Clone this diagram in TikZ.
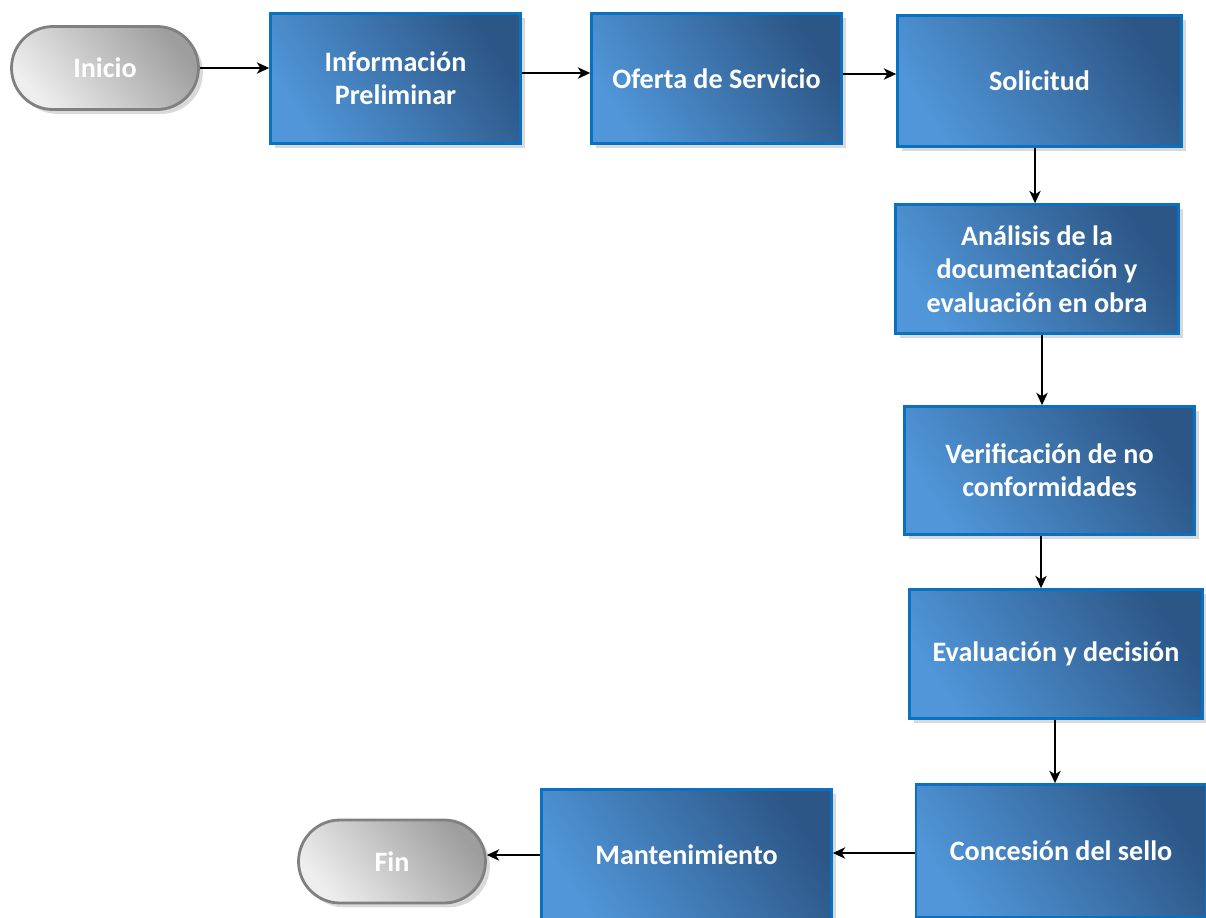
\documentclass[tikz,border=0pt]{standalone}
\usepackage{fontspec}
\setmainfont{Carlito}
\usetikzlibrary{arrows.meta,shadows}
\definecolor{boxlight}{RGB}{80,150,216}
\definecolor{boxdark}{RGB}{44,86,134}
\definecolor{boxline}{RGB}{10,112,192}
\definecolor{termlight}{RGB}{238,238,238}
\definecolor{termdark}{RGB}{158,158,158}
\definecolor{termline}{RGB}{128,128,128}

\begin{document}
\begin{tikzpicture}[x=0.02cm,y=-0.02cm,
  procbox/.style={rectangle,draw=boxline,line width=1.6pt,
    left color=boxlight,right color=boxdark,shading angle=124,
    text=white,font=\bfseries\fontsize{16}{19}\selectfont,align=center,
    inner sep=0pt,
    drop shadow={shadow xshift=2.5pt,shadow yshift=-2.5pt,opacity=0.3}},
  termbox/.style={rectangle,rounded corners=0.83cm,draw=termline,line width=1.6pt,
    left color=termlight,right color=termdark,shading angle=130,
    text=white,font=\bfseries\fontsize{16}{19}\selectfont,
    minimum width=3.74cm,minimum height=1.66cm,inner sep=0pt,
    drop shadow={shadow xshift=2.5pt,shadow yshift=-2.5pt,opacity=0.3}},
  flow/.style={-{Stealth[length=7pt,width=6.5pt,inset=2pt]},line width=0.7pt}]
\useasboundingbox (0,0) rectangle (1206,917);
\clip (0,0) rectangle (1206,917);
% top row
\node[termbox] (ini) at (105,68) {Inicio};
\node[procbox,minimum width=5.0cm,minimum height=2.6cm] (inf) at (395.5,78.5) {Información\\Preliminar};
\node[procbox,minimum width=5.0cm,minimum height=2.6cm] (ofe) at (716.5,78.5) {Oferta de Servicio};
\node[procbox,minimum width=5.68cm,minimum height=2.62cm] (sol) at (1039.5,81) {Solicitud};
% right column
\node[procbox,minimum width=5.66cm,minimum height=2.58cm] (ana) at (1037,269) {Análisis de la\\documentación y\\evaluación en obra};
\node[procbox,minimum width=5.8cm,minimum height=2.56cm] (ver) at (1049.5,470.5) {Verificación de no\\conformidades};
\node[procbox,minimum width=5.86cm,minimum height=2.58cm] (eva) at (1056,654) {Evaluación y decisión};
\node[procbox,minimum width=5.8cm,minimum height=2.66cm] (con) at (1061,851) {Concesión del sello};
% bottom row
\node[procbox,minimum width=5.8cm,minimum height=2.62cm] (man) at (686.5,855) {Mantenimiento};
\node[termbox] (fin) at (392,861.5) {Fin};
% connectors
\draw[flow] (ini.east) -- (ini.east -| inf.west);
\draw[flow] ([yshift=0.11cm]inf.east) -- ([yshift=0.11cm]inf.east -| ofe.west);
\draw[flow] ([yshift=0.09cm]ofe.east) -- ([yshift=0.09cm]ofe.east -| sol.west);
\draw[flow] ([xshift=-0.09cm]sol.south) -- ([xshift=-0.09cm]sol.south |- ana.north);
\draw[flow] ([xshift=0.1cm]ana.south) -- ([xshift=0.1cm]ana.south |- ver.north);
\draw[flow] ([xshift=-0.17cm]ver.south) -- ([xshift=-0.17cm]ver.south |- eva.north);
\draw[flow] ([xshift=-0.02cm]eva.south) -- ([xshift=-0.02cm]eva.south |- con.north);
\draw[flow] ([yshift=-0.04cm]con.west) -- ([yshift=-0.04cm]con.west -| man.east);
\draw[flow] (man.west) -- (man.west -| fin.east);
\end{tikzpicture}
\end{document}
